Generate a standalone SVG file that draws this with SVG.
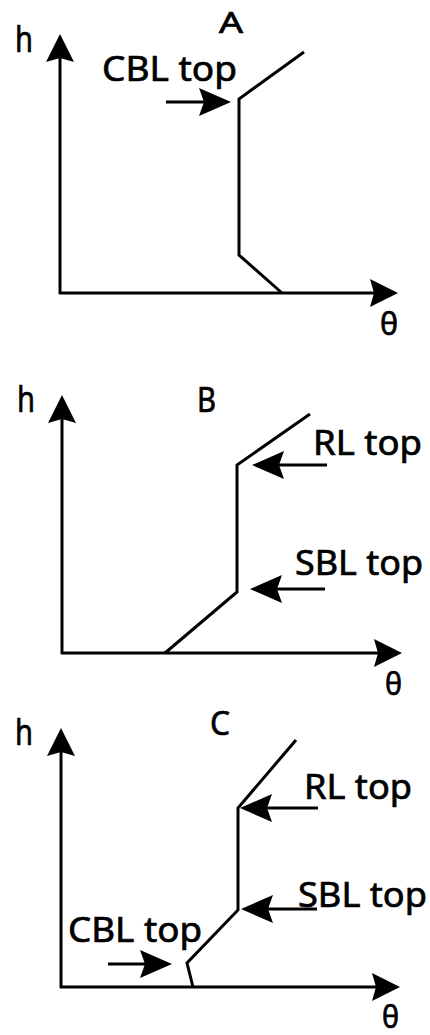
<svg xmlns="http://www.w3.org/2000/svg" width="430" height="1035" viewBox="0 0 430 1035">
<style>
  .ln { stroke: #000; stroke-width: 3; fill: none; stroke-linejoin: miter; }
  .ax { marker-end: url(#axh); }
  .la { marker-end: url(#lah); }
  text { font-family: "Noto Sans", "Open Sans", "DejaVu Sans", sans-serif; fill: #000; stroke: #000; stroke-width: 0.7px; }
  .h { font-size: 36px; }
  .lbl { font-size: 35px; }
  .th { font-size: 31px; }
</style>
<defs>
  <marker id="axh" markerUnits="userSpaceOnUse" markerWidth="30" markerHeight="30" refX="4" refY="14" orient="auto" viewBox="0 0 30 28">
    <path d="M0,0 L28,14 L0,28 L4,14 z" fill="#000"/>
  </marker>
  <marker id="lah" markerUnits="userSpaceOnUse" markerWidth="34" markerHeight="30" refX="5" refY="14" orient="auto" viewBox="0 0 34 28">
    <path d="M0,0 L32,14 L0,28 L5,14 z" fill="#000"/>
  </marker>
</defs>
<rect width="430" height="1035" fill="#fff"/>

<g id="connectors">
  <!-- Panel A -->
  <line class="ln ax" x1="60" y1="294" x2="60" y2="58"/>
  <line class="ln ax" x1="59" y1="293" x2="374" y2="293"/>
  <polyline class="ln" points="282,293 239,255 239,99 304,52"/>
  <line class="ln la" x1="166" y1="102" x2="204" y2="102"/>
  <!-- Panel B -->
  <line class="ln ax" x1="62" y1="654" x2="62" y2="419"/>
  <line class="ln ax" x1="61" y1="653" x2="378" y2="653"/>
  <polyline class="ln" points="165,653 237,592 237,465 310,414"/>
  <line class="ln la" x1="327" y1="465" x2="279" y2="465"/>
  <line class="ln la" x1="325" y1="589" x2="277" y2="589"/>
  <!-- Panel C -->
  <line class="ln ax" x1="61" y1="988" x2="61" y2="752"/>
  <line class="ln ax" x1="60" y1="987" x2="376" y2="987"/>
  <polyline class="ln" points="193,987 187,963 238,910 238,808 296,740"/>
  <line class="ln la" x1="318" y1="808" x2="267" y2="808"/>
  <line class="ln la" x1="317" y1="909" x2="268" y2="909"/>
  <line class="ln la" x1="108" y1="964" x2="145" y2="964"/>
</g>

<g id="panelA">
  <text class="h" x="15" y="52" textLength="18" lengthAdjust="spacingAndGlyphs">h</text>
  <text x="219" y="33" font-size="29" textLength="24" lengthAdjust="spacingAndGlyphs">A</text>
  <text class="lbl" x="102" y="81" textLength="135" lengthAdjust="spacingAndGlyphs">CBL top</text>
  <text class="th" x="380" y="335" textLength="18" lengthAdjust="spacingAndGlyphs">θ</text>
</g>

<g id="panelB">
  <text class="h" x="17" y="412" textLength="18" lengthAdjust="spacingAndGlyphs">h</text>
  <text x="197" y="412" font-size="34" textLength="19" lengthAdjust="spacingAndGlyphs">B</text>
  <text class="lbl" x="313" y="455" textLength="109" lengthAdjust="spacingAndGlyphs">RL top</text>
  <text class="lbl" x="295" y="575" textLength="128" lengthAdjust="spacingAndGlyphs">SBL top</text>
  <text class="th" x="385" y="695" textLength="17" lengthAdjust="spacingAndGlyphs">θ</text>
</g>

<g id="panelC">
  <text class="h" x="15" y="745" textLength="18" lengthAdjust="spacingAndGlyphs">h</text>
  <text x="210" y="735" font-size="32" textLength="20" lengthAdjust="spacingAndGlyphs">C</text>
  <text class="lbl" x="304" y="799" textLength="108" lengthAdjust="spacingAndGlyphs">RL top</text>
  <text class="lbl" x="298" y="907" textLength="129" lengthAdjust="spacingAndGlyphs">SBL top</text>
  <text class="lbl" x="68" y="942" textLength="134" lengthAdjust="spacingAndGlyphs">CBL top</text>
  <text class="th" x="382" y="1028" textLength="17" lengthAdjust="spacingAndGlyphs">θ</text>
</g>
</svg>
